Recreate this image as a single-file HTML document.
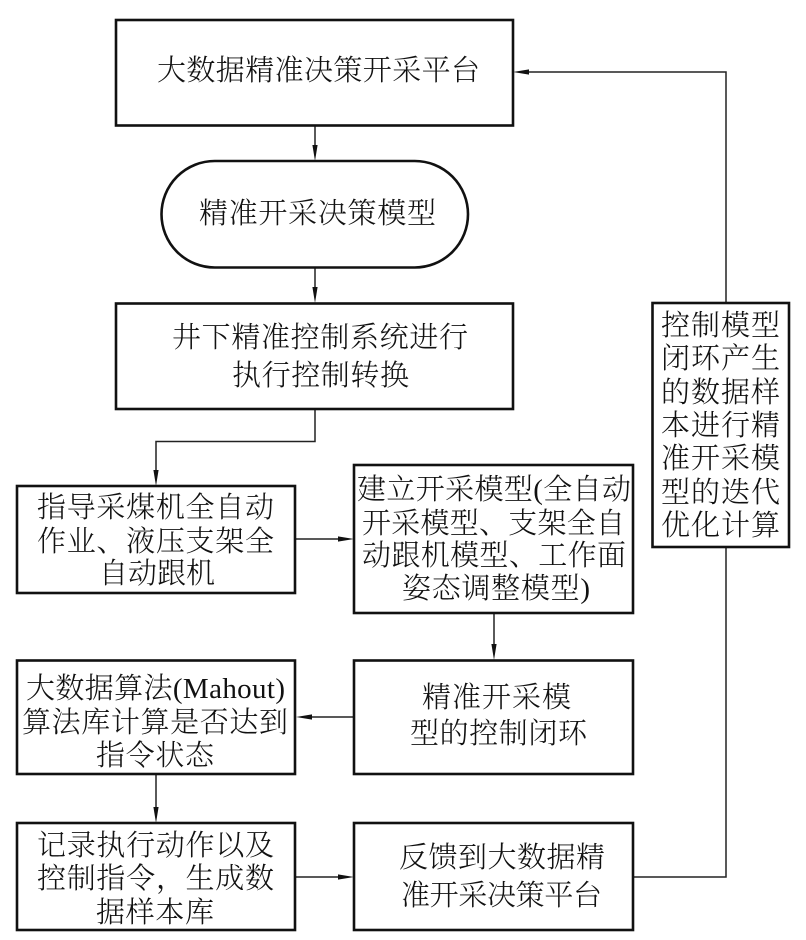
<!DOCTYPE html>
<html lang="zh">
<head>
<meta charset="utf-8">
<title>大数据精准决策开采平台流程图</title>
<style>
html,body{margin:0;padding:0;background:#fff;width:806px;height:940px;overflow:hidden}
svg{display:block}
text{font-family:"Liberation Serif","Noto Serif CJK SC",serif;font-size:29px;fill:#111;font-weight:300}
.b{fill:#fff;stroke:#111;stroke-width:2.6}
.l{fill:none;stroke:#222;stroke-width:1.5}
.a{fill:#111;stroke:none}
</style>
</head>
<body>
<svg width="806" height="940" viewBox="0 0 806 940" xmlns="http://www.w3.org/2000/svg">
<!-- connectors -->
<path class="l" d="M315 126V146"/><path class="a" d="M315 161l-2.6-16h5.2z"/>
<path class="l" d="M315 268V288"/><path class="a" d="M315 303l-2.6-16h5.2z"/>
<path class="l" d="M315 409V441.5H156V470"/><path class="a" d="M156 486l-2.6-16h5.2z"/>
<path class="l" d="M295 539H340"/><path class="a" d="M354 539l-16-2.6v5.2z"/>
<path class="l" d="M494 613V645"/><path class="a" d="M494 660l-2.6-16h5.2z"/>
<path class="l" d="M354 717H310"/><path class="a" d="M296 717l16-2.6v5.2z"/>
<path class="l" d="M156 774V808"/><path class="a" d="M156 823l-2.6-16h5.2z"/>
<path class="l" d="M295 877H340"/><path class="a" d="M354 877l-16-2.6v5.2z"/>
<path class="l" d="M633 877H726V547"/>
<path class="l" d="M726 303V72H528"/><path class="a" d="M513 72l16-2.6v5.2z"/>
<!-- nodes -->
<rect class="b" x="116" y="20" width="397" height="105.500"/>
<rect class="b" x="161.500" y="161" width="306.500" height="106.500" rx="53.250" ry="53.250"/>
<rect class="b" x="116" y="303.500" width="397" height="105.500"/>
<rect class="b" x="17" y="486" width="278" height="107"/>
<rect class="b" x="354" y="465" width="279" height="148"/>
<rect class="b" x="354" y="660.500" width="279" height="113.500"/>
<rect class="b" x="17" y="660.500" width="278" height="113.500"/>
<rect class="b" x="17" y="823" width="278" height="107"/>
<rect class="b" x="354" y="823" width="279" height="107"/>
<rect class="b" x="652.500" y="303" width="136.500" height="244"/>
<!-- labels -->
<text x="157" y="80" textLength="323" lengthAdjust="spacing">大数据精准决策开采平台</text>
<text x="199" y="223" textLength="237" lengthAdjust="spacing">精准开采决策模型</text>
<text x="172" y="347" textLength="296" lengthAdjust="spacing">井下精准控制系统进行</text>
<text x="232" y="385" textLength="177" lengthAdjust="spacing">执行控制转换</text>
<text x="37" y="517" textLength="237" lengthAdjust="spacing">指导采煤机全自动</text>
<text x="37" y="551" textLength="237" lengthAdjust="spacing">作业、液压支架全</text>
<text x="99" y="583" textLength="116" lengthAdjust="spacing">自动跟机</text>
<text x="357" y="499" textLength="274" lengthAdjust="spacing">建立开采模型(全自动</text>
<text x="362" y="533" textLength="263" lengthAdjust="spacing">开采模型、支架全自</text>
<text x="362" y="565" textLength="264" lengthAdjust="spacing">动跟机模型、工作面</text>
<text x="402" y="598" textLength="188" lengthAdjust="spacing">姿态调整模型)</text>
<text x="422" y="707" textLength="149" lengthAdjust="spacing">精准开采模</text>
<text x="410" y="743" textLength="177" lengthAdjust="spacing">型的控制闭环</text>
<text x="26" y="698" textLength="259" lengthAdjust="spacing">大数据算法(Mahout)</text>
<text x="22" y="732" textLength="266" lengthAdjust="spacing">算法库计算是否达到</text>
<text x="96" y="765" textLength="118" lengthAdjust="spacing">指令状态</text>
<text x="37" y="855" textLength="237" lengthAdjust="spacing">记录执行动作以及</text>
<text x="37" y="888" textLength="237" lengthAdjust="spacing">控制指令，生成数</text>
<text x="96" y="922" textLength="118" lengthAdjust="spacing">据样本库</text>
<text x="399" y="867" textLength="206" lengthAdjust="spacing">反馈到大数据精</text>
<text x="401" y="905" textLength="201" lengthAdjust="spacing">准开采决策平台</text>
<text x="661" y="335" textLength="119" lengthAdjust="spacing">控制模型</text>
<text x="661" y="368" textLength="119" lengthAdjust="spacing">闭环产生</text>
<text x="661" y="402" textLength="119" lengthAdjust="spacing">的数据样</text>
<text x="661" y="435" textLength="119" lengthAdjust="spacing">本进行精</text>
<text x="661" y="468" textLength="119" lengthAdjust="spacing">准开采模</text>
<text x="661" y="502" textLength="119" lengthAdjust="spacing">型的迭代</text>
<text x="661" y="535" textLength="119" lengthAdjust="spacing">优化计算</text>
</svg>
</body>
</html>
